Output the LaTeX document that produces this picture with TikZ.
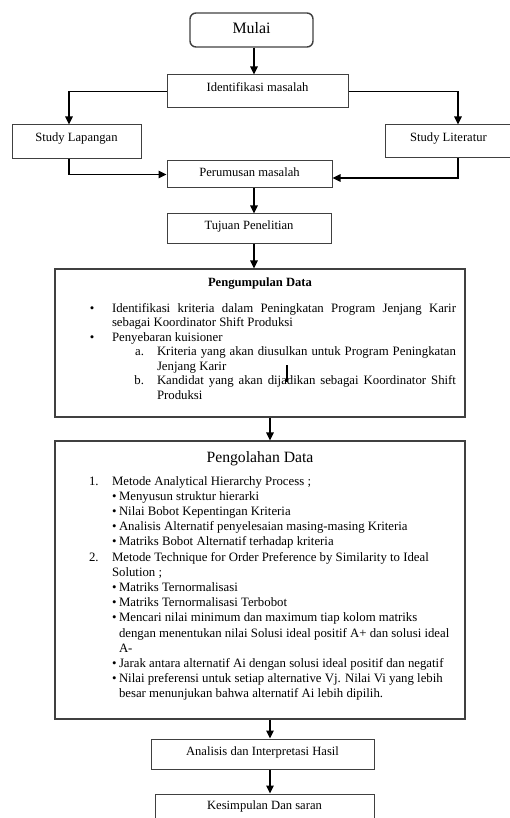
\documentclass[tikz,border=0pt]{standalone}
\usepackage{fontspec}
\setmainfont{Liberation Serif}
\usetikzlibrary{arrows.meta}

\hyphenpenalty=10000
\exhyphenpenalty=10000
\newcommand{\aturdaftar}[3]{\setlength{\leftmargin}{#1}\setlength{\labelsep}{#2}%
  \setlength{\rightmargin}{#3}\setlength{\labelwidth}{\leftmargin}\addtolength{\labelwidth}{-\labelsep}%
  \setlength{\itemsep}{0pt}\setlength{\parsep}{0pt}\setlength{\topsep}{0pt}\setlength{\partopsep}{0pt}}

\begin{document}
\begin{tikzpicture}[x=1pt,y=-1pt]
  \tikzstyle{kotak}=[draw=black!75,line width=1pt,rectangle,inner sep=0pt,font=\fontsize{12.6}{14}\selectfont]
  \tikzstyle{kotakbesar}=[draw=black!75,line width=1.1pt,rectangle,inner sep=0pt,font=\fontsize{12.8}{14.5}\selectfont]
  \tikzstyle{panah}=[line width=1.2pt,draw=black,-{Triangle[length=8pt,width=7.5pt]}]
  \useasboundingbox (0,0) rectangle (509,818);

  \node[kotak,rounded corners=6pt,line width=1.4pt,minimum width=123pt,text height=20.2pt,text depth=13.8pt,font=\fontsize{15.9}{18}\selectfont] (mulai) at (251.5,30) {Mulai};
  \node[kotak,minimum width=181pt,text height=16.1pt,text depth=16.9pt] (ident) at (257.5,91.5) {Identifikasi masalah};
  \node[kotak,minimum width=129pt,text height=16.1pt,text depth=17.9pt] (lapangan) at (76.5,142) {Study Lapangan};
  \node[kotak,minimum width=127pt,text height=16.1pt,text depth=16.9pt] (literatur) at (448.5,141.5) {Study Literatur};
  \node[kotak,minimum width=165pt,text height=15.1pt,text depth=11.9pt] (rumus) at (249.5,174.5) {Perumusan masalah};
  \node[kotak,minimum width=164pt,text height=15.1pt,text depth=13.9pt] (tujuan) at (249,228.5) {Tujuan Penelitian};

  \node[kotakbesar] (kumpul) at (260,343) {\parbox[c][148pt][t]{410pt}{\setlength{\parskip}{0pt}%
    {\centering\bfseries\fontsize{12.6}{14.5}\selectfont\rule{0pt}{17pt}Pengumpulan Data\par}
    \vspace{11.5pt}
    \begin{list}{\textbullet}{\aturdaftar{57pt}{17.7pt}{9pt}}
      \item Identifikasi kriteria dalam Peningkatan Program Jenjang Karir sebagai Koordinator Shift Produksi
      \item Penyebaran kuisioner
      \begin{list}{}{\aturdaftar{45pt}{13pt}{0pt}}
        \item[a.] Kriteria yang akan diusulkan untuk Program Peningkatan Jenjang Karir
        \item[b.] Kandidat yang akan dijadikan sebagai Koordinator Shift Produksi
      \end{list}
    \end{list}}};
  \draw[line width=2pt] (287,365) -- (287,382);

  \node[kotakbesar] (olah) at (260,580) {\parbox[c][278pt][t]{410pt}{\setlength{\parskip}{0pt}%
    \fontsize{12.8}{15.2}\selectfont\raggedright
    {\centering\fontsize{15.7}{18}\selectfont\rule{0pt}{21.5pt}Pengolahan Data\par}
    \vspace{7.3pt}
    \begin{list}{}{\aturdaftar{57pt}{13.4pt}{14pt}}
      \item[1.] Metode Analytical Hierarchy Process ;
      \begin{list}{\textbullet}{\aturdaftar{7pt}{2.5pt}{0pt}}
        \item Menyusun struktur hierarki
        \item Nilai Bobot Kepentingan Kriteria
        \item Analisis Alternatif penyelesaian masing-masing Kriteria
        \item Matriks Bobot Alternatif terhadap kriteria
      \end{list}
      \item[2.] Metode Technique for Order Preference by Similarity to Ideal Solution ;
      \begin{list}{\textbullet}{\aturdaftar{7pt}{2.5pt}{0pt}}
        \item Matriks Ternormalisasi
        \item Matriks Ternormalisasi Terbobot
        \item Mencari nilai minimum dan maximum tiap kolom matriks dengan menentukan nilai Solusi ideal positif A+ dan solusi ideal A-
        \item Jarak antara alternatif Ai dengan solusi ideal positif dan negatif
        \item Nilai preferensi untuk setiap alternative Vj. Nilai Vi yang lebih besar menunjukan bahwa alternatif Ai lebih dipilih.
      \end{list}
    \end{list}}};

  \node[kotak,minimum width=223pt,text height=16.1pt,text depth=13.9pt] (analisis) at (262.5,754) {Analisis dan Interpretasi Hasil};
  \node[kotak,minimum width=219pt,text height=15pt,text depth=15pt] (simpul) at (264.5,809) {Kesimpulan Dan saran};

  \draw[panah] ([xshift=2.5pt]mulai.south) -- ([xshift=2.5pt]mulai.south |- ident.north);
  \draw[panah] (ident.west) -| ([xshift=-7.5pt]lapangan.north);
  \draw[panah] (ident.east) -| ([xshift=9.5pt]literatur.north);
  \draw[panah] ([xshift=-7.5pt]lapangan.south) |- (rumus.west);
  \draw[panah] ([xshift=9.5pt]literatur.south) |- ([yshift=-3.5pt]rumus.east);
  \draw[panah] ([xshift=4.5pt]rumus.south) -- ([xshift=4.5pt]rumus.south |- tujuan.north);
  \draw[panah] ([xshift=5pt]tujuan.south) -- ([xshift=5pt]tujuan.south |- kumpul.north);
  \draw[panah] ([xshift=10pt]kumpul.south) -- ([xshift=10pt]kumpul.south |- olah.north);
  \draw[panah] ([xshift=10pt]olah.south) -- ([xshift=10pt]olah.south |- analisis.north);
  \draw[panah] ([xshift=7.5pt]analisis.south) -- ([xshift=7.5pt]analisis.south |- simpul.north);
\end{tikzpicture}
\end{document}
